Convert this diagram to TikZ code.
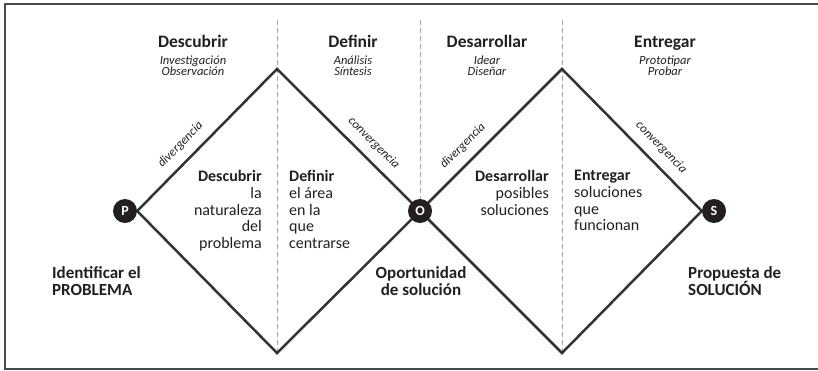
\documentclass[tikz,border=0pt]{standalone}
\usepackage{fontspec}
\setmainfont{Carlito}
\usetikzlibrary{backgrounds}
\definecolor{ink}{HTML}{231F20}
\definecolor{edgegray}{HTML}{333333}
\definecolor{guidegray}{HTML}{A6A6A6}
\definecolor{framegray}{HTML}{4A4A4A}

\begin{document}
\begin{tikzpicture}[x=1pt,y=-1pt,
	edge/.style={line width=2.5pt, draw=edgegray, line join=miter},
	guide/.style={draw=guidegray, line width=0.8pt, dash pattern=on 5pt off 3pt},
	point/.style={circle, fill=ink, minimum size=24pt, inner sep=0pt, text=white, font=\bfseries\fontsize{14}{14}\selectfont},
	phase/.style={text=ink, inner sep=0pt, font=\bfseries\fontsize{17.5}{19}\selectfont},
	tasks/.style={text=ink, inner sep=0pt, align=center, font=\itshape\fontsize{12.5}{11}\selectfont},
	flow/.style={text=ink, sloped, above=9pt, inner sep=0pt, font=\itshape\fontsize{12.5}{13}\selectfont},
	aim/.style={text=ink, inner sep=0pt, font=\fontsize{16}{16.8}\selectfont},
	milestone/.style={text=ink, inner sep=0pt, font=\bfseries\fontsize{17}{17}\selectfont}
]

	\useasboundingbox (0,0) rectangle (818,370);
	\draw[draw=framegray, line width=1.6pt] (5,4) rectangle (830,369);

	\coordinate (t1) at (277,69);
	\coordinate (b1) at (277,353);
	\coordinate (t2) at (562,69);
	\coordinate (b2) at (562,353);
	\coordinate (g1) at (277,20);
	\coordinate (g2) at (420,20);
	\coordinate (g3) at (562,20);

	\node[point] (P) at (125,211) {P};
	\node[point] (O) at (420,211) {O};
	\node[point] (S) at (714,211) {S};

	\begin{scope}[on background layer]
	\draw[guide] (g1) -- (b1);
	\draw[guide] (g2) -- (O);
	\draw[guide] (g3) -- (b2);

	\draw[edge] (P.east) -- node[flow, pos=0.39] {divergencia} (t1) -- node[flow, pos=0.6] {convergencia} (O.center) -- (b1) -- cycle;
	\draw[edge] (O.center) -- node[flow, pos=0.38] {divergencia} (t2) -- node[flow, pos=0.63] {convergencia} (S.west) -- (b2) -- cycle;
	\end{scope}

	% fases
	\node[phase, anchor=base] (hd1) at (193,47) {Descubrir};
	\node[phase, anchor=base] (hd2) at (353,47) {Definir};
	\node[phase, anchor=base] (hd3) at (487,47) {Desarrollar};
	\node[phase, anchor=base] (hd4) at (665,47) {Entregar};

	\node[tasks, anchor=north] (tk1) at (193,56) {Investigación\\Observación};
	\node[tasks, anchor=north] (tk2) at (353,56) {Análisis\\Síntesis};
	\node[tasks, anchor=north] (tk3) at (487,56) {Idear\\Diseñar};
	\node[tasks, anchor=north] (tk4) at (665,56) {Prototipar\\Probar};

	% objetivos
	\node[aim, anchor=north east, align=right] (in1) at (262,170) {\textbf{Descubrir}\\la\\naturaleza\\del\\problema};
	\node[aim, anchor=north west, align=left] (in2) at (289,170) {\textbf{Definir}\\el área\\en la\\que\\centrarse};
	\node[aim, anchor=north east, align=right] (in3) at (549,170) {\textbf{Desarrollar}\\posibles\\soluciones};
	\node[aim, anchor=north west, align=left] (in4) at (574,170) {\textbf{Entregar}\\soluciones\\que\\funcionan};

	\node[milestone, anchor=north west, align=left] (ms1) at (52,266) {Identificar el\\PROBLEMA};
	\node[milestone, anchor=north, align=center] (ms2) at (421,266) {Oportunidad\\de solución};
	\node[milestone, anchor=north west, align=left] (ms3) at (688,266) {Propuesta de\\SOLUCIÓN};

\end{tikzpicture}
\end{document}
